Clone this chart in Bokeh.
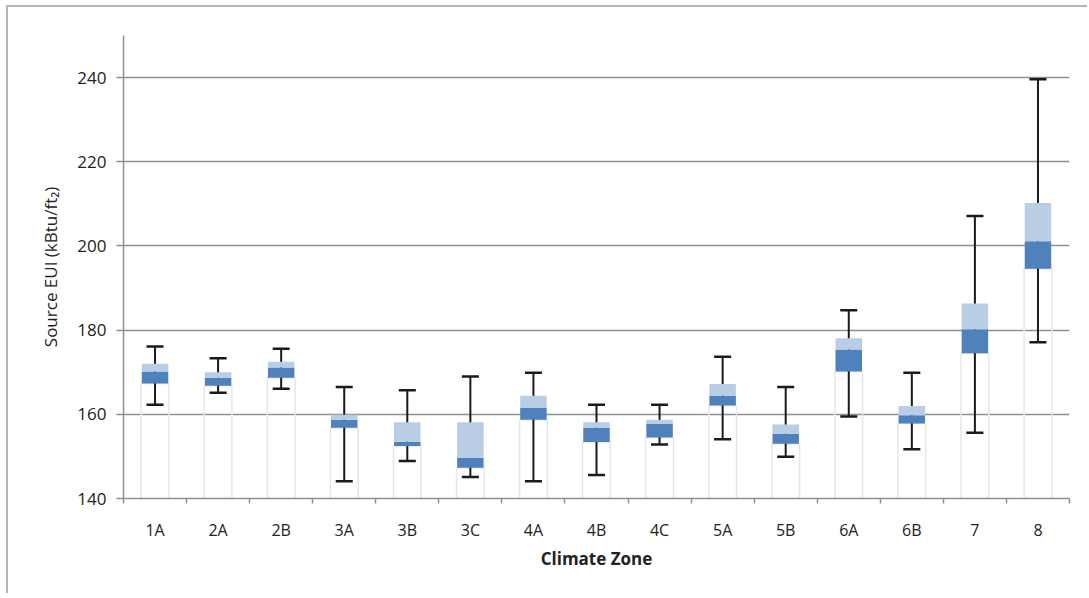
from bokeh.plotting import figure
from bokeh.models import (Range1d, LinearAxis, FixedTicker, ColumnDataSource)
from bokeh.embed import file_html
from bokeh.resources import INLINE

zones = ["1A", "2A", "2B", "3A", "3B", "3C", "4A", "4B", "4C", "5A", "5B", "6A", "6B", "7", "8"]
whisker_low = [162.3, 165.1, 166.1, 144.1, 148.9, 145.1, 144.1, 145.6, 152.8, 154.1, 149.9, 159.5, 151.7, 155.6, 177.1]
quart1 = [167.3, 166.8, 168.7, 156.8, 152.5, 147.3, 158.7, 153.4, 154.5, 162.1, 153.0, 170.2, 157.8, 174.5, 194.6]
median = [170.2, 168.7, 171.1, 158.7, 153.5, 149.6, 161.5, 156.8, 157.7, 164.4, 155.4, 175.4, 159.8, 180.2, 201.1]
quart3 = [172.0, 170.0, 172.5, 159.9, 158.1, 158.1, 164.4, 158.1, 158.7, 167.2, 157.6, 178.1, 162.0, 186.3, 210.2]
whisker_high = [176.1, 173.3, 175.6, 166.5, 165.7, 169.0, 169.9, 162.3, 162.3, 173.7, 166.5, 184.7, 169.9, 207.1, 239.6]
y_ticks = [140, 160, 180, 200, 220, 240]
y_min, y_max = 140, 250

n = len(zones)
centers = [i + 0.5 for i in range(n)]
edges = list(range(n + 1))
cap_half = 0.135
src = ColumnDataSource(dict(x=centers, zone=zones, lo=whisker_low, q1=quart1, med=median,
                            q3=quart3, hi=whisker_high, base=[y_min] * n,
                            cx0=[c - cap_half for c in centers],
                            cx1=[c + cap_half for c in centers]))

FONT = "Open Sans"
TXT = "#222222"
GRID = "#8f8f8f"

p = figure(width=1081, height=588, x_range=Range1d(0, n),
           y_range=Range1d(y_min, y_max), output_backend="svg",
           toolbar_location=None, x_axis_location=None,
           min_border_left=115, min_border_top=28, min_border_right=20,
           min_border_bottom=97)
p.styles = {"margin-left": "6px", "margin-top": "5px",
            "border-left": "2px solid #b5b5b5", "border-top": "2px solid #b5b5b5"}
p.outline_line_color = None
p.background_fill_color = "white"
p.border_fill_color = "white"

# category axis: labels at centres, minor ticks at category edges
xaxis = LinearAxis(ticker=FixedTicker(ticks=centers, minor_ticks=edges),
                   major_label_overrides={c: z for c, z in zip(centers, zones)},
                   axis_line_color=GRID, axis_line_width=1.5,
                   major_tick_line_color=None, major_tick_out=0, major_tick_in=0,
                   minor_tick_line_color=GRID, minor_tick_line_width=1.5,
                   minor_tick_out=5, minor_tick_in=0,
                   major_label_text_font=FONT, major_label_text_font_size="16px",
                   major_label_text_color=TXT, major_label_standoff=15,
                   axis_label="Climate Zone", axis_label_text_font=FONT,
                   axis_label_text_font_size="17px", axis_label_text_font_style="bold",
                   axis_label_text_color=TXT, axis_label_standoff=3)
p.add_layout(xaxis, "below")

p.yaxis.ticker = FixedTicker(ticks=y_ticks)
p.yaxis.axis_line_color = GRID
p.yaxis.axis_line_width = 1.5
p.yaxis.major_tick_line_color = GRID
p.yaxis.major_tick_line_width = 1.5
p.yaxis.major_tick_out = 7
p.yaxis.major_tick_in = 0
p.yaxis.minor_tick_line_color = None
p.yaxis.major_label_text_font = FONT
p.yaxis.major_label_text_font_size = "17px"
p.yaxis.major_label_text_color = TXT
p.yaxis.major_label_standoff = 10
p.yaxis.axis_label = "Source EUI (kBtu/ft\u2082)"
p.yaxis.axis_label_text_font = FONT
p.yaxis.axis_label_text_font_size = "17px"
p.yaxis.axis_label_text_font_style = "normal"
p.yaxis.axis_label_text_color = TXT
p.yaxis.axis_label_standoff = 12

p.xgrid.grid_line_color = None
p.ygrid.ticker = FixedTicker(ticks=y_ticks[1:])
p.ygrid.grid_line_color = GRID
p.ygrid.grid_line_width = 1.5

# faint invisible base bars
p.vbar(x="x", bottom="base", top="q1", width=0.44, source=src,
       fill_color=None, line_color="#e6e6e6", line_width=1.5)

# whiskers
p.segment(x0="x", y0="lo", x1="x", y1="hi", source=src,
          line_color="#1a1a1a", line_width=2)
p.segment(x0="cx0", y0="hi", x1="cx1", y1="hi", source=src,
          line_color="#1a1a1a", line_width=2.5)
p.segment(x0="cx0", y0="lo", x1="cx1", y1="lo", source=src,
          line_color="#1a1a1a", line_width=2.5)

# boxes
p.vbar(x="x", bottom="q1", top="med", width=0.42, source=src,
       fill_color="#4f81bd", line_color=None)
p.vbar(x="x", bottom="med", top="q3", width=0.42, source=src,
       fill_color="#b9cde5", line_color=None)

open("out.html", "w").write(file_html(p, INLINE))
